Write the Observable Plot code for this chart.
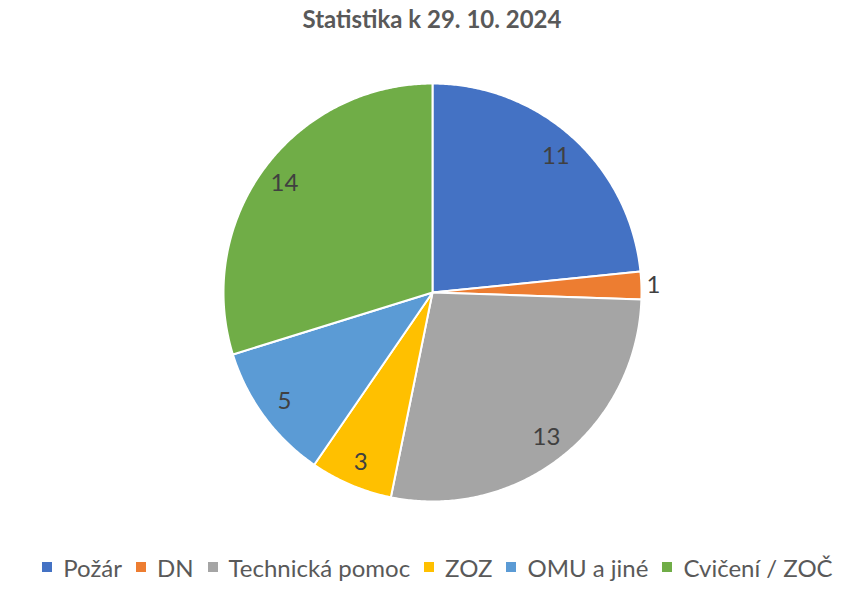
<!DOCTYPE html>
<html>
<head>
<meta charset="utf-8">
<script src="https://cdn.jsdelivr.net/npm/d3@7"></script>
<script src="https://cdn.jsdelivr.net/npm/@observablehq/plot@0.6"></script>
<style>
  html, body { margin: 0; padding: 0; background: #fff; }
  body { width: 861px; height: 591px; overflow: hidden; font-family: Lato, "Open Sans", sans-serif; }
  #title { height: 40px; line-height: 38px; text-align: center; font-weight: bold; font-size: 24px; color: #595959; padding-left: 3px; }
  #chart { height: 500px; }
  #legend { display: flex; justify-content: center; align-items: center; height: 54px; font-size: 24px; color: #595959; padding-left: 14px; }
  .item { display: flex; align-items: center; margin: 0 7px; }
  .sw { width: 10px; height: 10px; margin-right: 11px; }
</style>
</head>
<body>
<div id="title">Statistika k 29. 10. 2024</div>
<div id="chart"></div>
<div id="legend"></div>
<script>
const categories = ["Požár", "DN", "Technická pomoc", "ZOZ", "OMU a jiné", "Cvičení / ZOČ"];
const values = [11, 1, 13, 3, 5, 14];
const colors = ["#4472C4", "#ED7D31", "#A5A5A5", "#FFC000", "#5B9BD5", "#70AD47"];

const data = categories.map((c, i) => ({cat: c, value: values[i]}));
const arcs = d3.pie().sort(null).value(d => d.value).startAngle(0).endAngle(2 * Math.PI)(data);

// slice outlines in unit coordinates (angle measured clockwise from top)
const pts = [];
for (const a of arcs) {
  const cat = a.data.cat;
  pts.push({cat, x: 0, y: 0});
  const n = Math.max(2, Math.ceil((a.endAngle - a.startAngle) / (Math.PI / 360)));
  for (let k = 0; k <= n; k++) {
    const t = a.startAngle + (a.endAngle - a.startAngle) * k / n;
    pts.push({cat, x: Math.sin(t), y: Math.cos(t)});
  }
}
const total = d3.sum(values);
const labels = arcs.map(a => {
  const m = (a.startAngle + a.endAngle) / 2;
  const small = a.data.value / total < 0.05;
  const r = small ? 1.025 : 0.88;
  return {cat: a.data.cat, value: a.data.value, x: Math.sin(m) * r, y: Math.cos(m) * r, small};
});

const cx = 432, cy = 252, R = 209;
const chart = Plot.plot({
  width: 861,
  height: 500,
  margin: 0,
  x: {domain: [-1, 1], range: [cx - R, cx + R], axis: null},
  y: {domain: [-1, 1], range: [cy + R, cy - R], axis: null},
  color: {domain: categories, range: colors},
  style: {fontFamily: "Lato, 'Open Sans', sans-serif", background: "white"},
  marks: [
    Plot.line(pts, {x: "x", y: "y", z: "cat", fill: "cat", stroke: "white", strokeWidth: 2, curve: "linear-closed", strokeLinejoin: "round"}),
    Plot.text(labels.filter(d => !d.small), {x: "x", y: "y", text: d => String(d.value), fontSize: 24, fill: "#404040"}),
    Plot.text(labels.filter(d => d.small), {x: "x", y: "y", text: d => String(d.value), fontSize: 24, fill: "#404040", textAnchor: "start"})
  ]
});
document.getElementById("chart").appendChild(chart);

const legend = document.getElementById("legend");
categories.forEach((c, i) => {
  const it = document.createElement("div");
  it.className = "item";
  const sw = document.createElement("span");
  sw.className = "sw";
  sw.style.background = colors[i];
  const tx = document.createElement("span");
  tx.textContent = c;
  it.appendChild(sw);
  it.appendChild(tx);
  legend.appendChild(it);
});
</script>
</body>
</html>
